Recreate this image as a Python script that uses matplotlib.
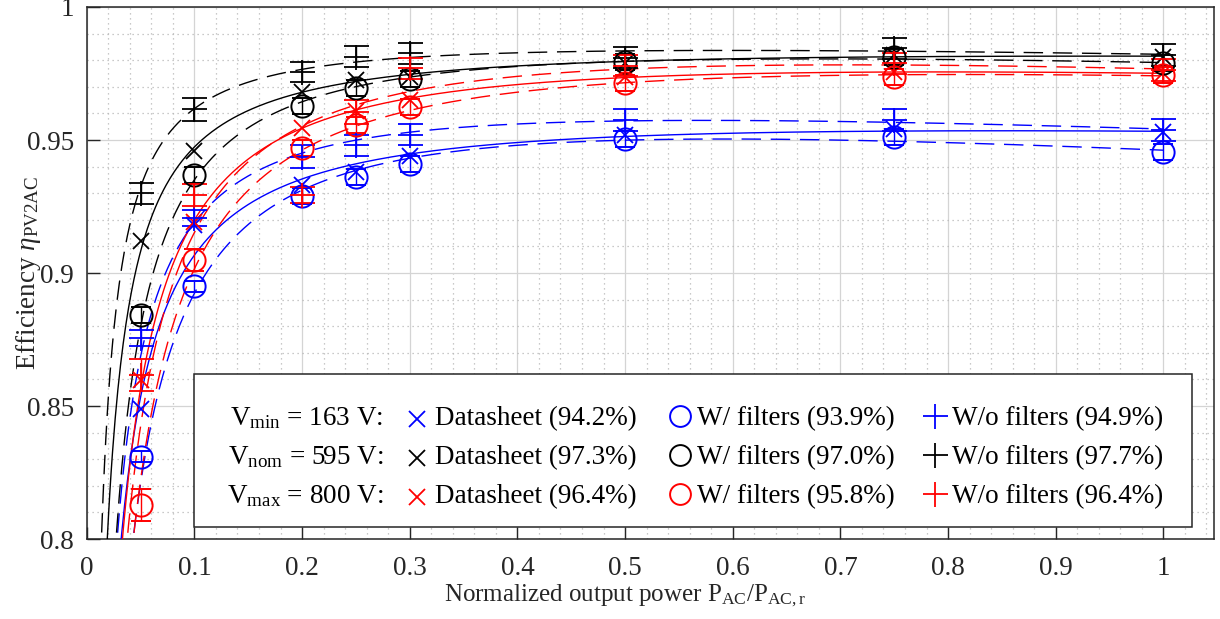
import numpy as np
import matplotlib
matplotlib.use('Agg')
import matplotlib.pyplot as plt
from matplotlib.patches import Rectangle
from matplotlib.ticker import MultipleLocator, FixedLocator, FuncFormatter

plt.rcParams['font.family'] = ['Liberation Serif', 'DejaVu Serif']
plt.rcParams['mathtext.fontset'] = 'custom'
plt.rcParams['mathtext.rm'] = 'Liberation Serif'
plt.rcParams['mathtext.it'] = 'Liberation Serif:italic'
plt.rcParams['mathtext.bf'] = 'Liberation Serif:bold'

# ---------------- data ----------------
p = [0.05, 0.1, 0.2, 0.25, 0.3, 0.5, 0.75, 1.0]

# V_min = 163 V (blue)
vmin_ds = [0.849, 0.918, 0.933, 0.938, 0.944, 0.952, 0.954, 0.953]
vmin_wf = [0.831, 0.895, 0.929, 0.936, 0.941, 0.9505, 0.951, 0.9456]
vmin_wf_err = [0.002, 0.002, 0.003, 0.003, 0.003, 0.003, 0.003, 0.003]
vmin_wo = [0.8756, 0.9205, 0.9437, 0.948, 0.952, 0.9575, 0.9575, 0.9538]
vmin_wo_err = [0.003, 0.003, 0.0044, 0.004, 0.004, 0.004, 0.004, 0.004]

# V_nom = 595 V (black)
vnom_ds = [0.912, 0.946, 0.968, 0.9726, 0.9738, 0.979, 0.982, 0.9813]
vnom_wf = [0.8842, 0.9368, 0.9628, 0.9694, 0.9728, 0.9794, 0.9813, 0.9788]
vnom_wf_err = [0.003, 0.003, 0.003, 0.003, 0.003, 0.003, 0.003, 0.003]
vnom_wo = [0.930, 0.9615, 0.9757, 0.9813, 0.9826, 0.981, 0.9845, 0.982]
vnom_wo_err = [0.004, 0.0044, 0.0038, 0.004, 0.004, 0.004, 0.004, 0.004]

# V_max = 800 V (red)
vmax_ds = [0.8597, 0.919, 0.9544, 0.961, 0.965, 0.9738, 0.9757, 0.975]
vmax_wf = [0.8128, 0.9049, 0.9469, 0.9556, 0.9625, 0.9713, 0.9738, 0.9744]
vmax_wf_err = [0.006, 0.004, 0.003, 0.003, 0.003, 0.003, 0.003, 0.003]
vmax_wo = [0.8617, 0.9293, 0.9295, 0.9606, 0.977, 0.978, 0.9788, 0.9763]
vmax_wo_err = [0.006, 0.004, 0.003, 0.0044, 0.004, 0.004, 0.004, 0.004]

colors = ['#0000ff', '#000000', '#ff0000']
row_labels = [r'V$_{\mathregular{min}}$ = 163 V:',
              r'V$_{\mathregular{nom}}$ = 595 V:',
              r'V$_{\mathregular{max}}$ = 800 V:']
ds_labels = ['Datasheet (94.2%)', 'Datasheet (97.3%)', 'Datasheet (96.4%)']
wf_labels = ['W/ filters (93.9%)', 'W/ filters (97.0%)', 'W/ filters (95.8%)']
wo_labels = ['W/o filters (94.9%)', 'W/o filters (97.7%)', 'W/o filters (96.4%)']

x_ticks = [0, 0.1, 0.2, 0.3, 0.4, 0.5, 0.6, 0.7, 0.8, 0.9, 1]
y_ticks = [0.8, 0.85, 0.9, 0.95, 1]

groups = [
    (vmin_ds, vmin_wf, vmin_wf_err, vmin_wo, vmin_wo_err),
    (vnom_ds, vnom_wf, vnom_wf_err, vnom_wo, vnom_wo_err),
    (vmax_ds, vmax_wf, vmax_wf_err, vmax_wo, vmax_wo_err),
]


def loss_fit(x, eta):
    """Fit loss model P_loss = a + b P + c P^2 and return efficiency curve."""
    x = np.asarray(x, float)
    eta = np.asarray(eta, float)
    L = x * (1 - eta) / eta
    A = np.vstack([np.ones_like(x), x, x ** 2]).T
    c, *_ = np.linalg.lstsq(A, L, rcond=None)
    xf = np.linspace(0.004, 1.0, 800)
    return xf, xf / (xf + c[0] + c[1] * xf + c[2] * xf ** 2)


# ---------------- figure ----------------
fig = plt.figure(figsize=(12.2, 6.19), dpi=100)
ax = fig.add_axes([0.0711, 0.1292, 0.9240, 0.8595])

FS = 19.5
edge = '#262626'
dash = (0, (14, 7))

for col, (ds, wf, wfe, wo, woe) in zip(colors, groups):
    xf, ef = loss_fit(p, ds)
    ax.plot(xf, ef, '-', color=col, lw=1.0, zorder=3)
    xf, ef = loss_fit(p, wf)
    ax.plot(xf, ef, linestyle=dash, color=col, lw=1.0, zorder=3)
    xf, ef = loss_fit(p, wo)
    ax.plot(xf, ef, linestyle=dash, color=col, lw=1.0, zorder=3)

for col, (ds, wf, wfe, wo, woe) in zip(colors, groups):
    ax.plot(p, ds, 'x', color=col, ms=12, mew=1.3, zorder=4)
    ax.errorbar(p, wf, yerr=wfe, fmt='o', mfc='none', mec=col, ecolor=col,
                ms=16, mew=1.4, capsize=7, elinewidth=1.0, capthick=1.0, zorder=4)
    ax.errorbar(p, wo, yerr=woe, fmt='+', color=col, ecolor=col,
                ms=18, mew=1.3, capsize=9, elinewidth=1.0, capthick=1.0, zorder=4)

ax.set_xlim(0, 1.047)
ax.set_ylim(0.8, 1.0)
ax.xaxis.set_major_locator(FixedLocator(x_ticks))
ax.yaxis.set_major_locator(FixedLocator(y_ticks))
ax.xaxis.set_minor_locator(MultipleLocator(0.02))
ax.yaxis.set_minor_locator(MultipleLocator(0.01))
fmt = FuncFormatter(lambda v, pos: '%g' % round(v, 3))
ax.xaxis.set_major_formatter(fmt)
ax.yaxis.set_major_formatter(fmt)

ax.grid(which='major', color='#d4d4d4', lw=0.9, ls='-', zorder=0)
ax.grid(which='minor', color='#b8b8b8', lw=0.9, ls=(0, (1, 3)), zorder=0)
ax.set_axisbelow(True)

ax.tick_params(axis='both', which='major', direction='in', length=9, width=1.0,
               colors=edge, labelsize=FS, top=False, right=False)
ax.tick_params(axis='x', which='major', pad=12)
ax.tick_params(axis='y', which='major', pad=9)
ax.tick_params(which='minor', length=0)
for s in ax.spines.values():
    s.set_color(edge)
    s.set_linewidth(1.1)

ax.set_ylabel(r'Efficiency $\eta_{\mathregular{PV2AC}}$', fontsize=FS, color=edge)
ax.yaxis.set_label_coords(-0.039, 0.5)
ax.set_xlabel(r'Normalized output power P$_{\mathregular{AC}}$/P$_{\mathregular{AC,r}}$',
              fontsize=18, color=edge)
ax.xaxis.set_label_coords(0.4777, -0.081)

# ---------------- legend (manual layout) ----------------
tr = ax.transAxes
ax.add_patch(Rectangle((0.0952, 0.0226), 0.9805 - 0.0952, 0.310 - 0.0226,
                       transform=tr, facecolor='white', edgecolor=edge,
                       lw=1.1, zorder=10))
base_y = [0.2143, 0.1410, 0.0677]
mk_dy = 0.017
for i in range(3):
    yb = base_y[i]
    ax.text(0.2628, yb, row_labels[i], transform=tr, ha='right', va='baseline',
            fontsize=FS, color='black', zorder=11)
    ax.plot([0.2930], [yb + mk_dy - 0.006], 'x', color=colors[i], ms=12, mew=1.3,
            transform=tr, zorder=11, clip_on=False)
    ax.text(0.3090, yb, ds_labels[i], transform=tr, ha='left', va='baseline',
            fontsize=FS, color='black', zorder=11)
    ax.plot([0.5263], [yb + mk_dy], 'o', mfc='none', mec=colors[i], ms=15, mew=1.4,
            transform=tr, zorder=11, clip_on=False)
    ax.text(0.5414, yb, wf_labels[i], transform=tr, ha='left', va='baseline',
            fontsize=FS, color='black', zorder=11)
    ax.plot([0.7525], [yb + mk_dy], '+', color=colors[i], ms=18, mew=1.3,
            transform=tr, zorder=11, clip_on=False)
    ax.text(0.7676, yb, wo_labels[i], transform=tr, ha='left', va='baseline',
            fontsize=FS, color='black', zorder=11)

fig.savefig('out.png', dpi=100)
